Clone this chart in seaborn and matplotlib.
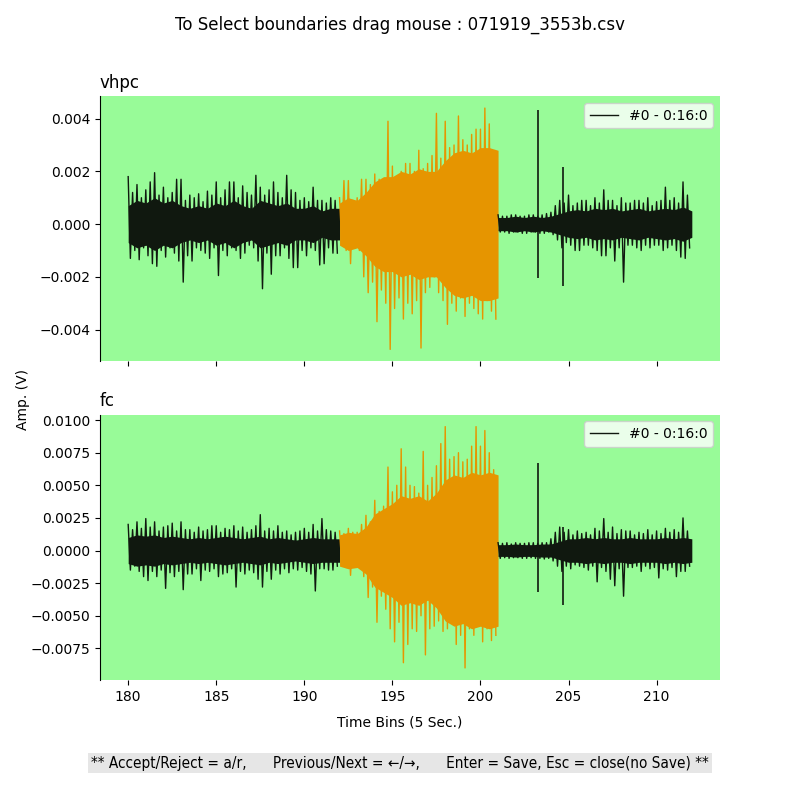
import numpy as np
import pandas as pd
import matplotlib
matplotlib.use('Agg')
import matplotlib.pyplot as plt
import seaborn as sns

# time bins (5 sec.) - peak/trough read every quarter bin, values in mV
t_pre = np.arange(180.0, 192.0, 0.25)
t_evt = np.arange(192.0, 201.0, 0.25)
t_post = np.arange(201.0, 212.0, 0.25)
# dense (solid looking) part of the trace, half width every half bin, mV
tc_pre = np.arange(180.0, 192.5, 0.5)
tc_evt = np.arange(192.0, 201.5, 0.5)
tc_post = np.arange(201.0, 212.5, 0.5)

# vhpc
vhpc_pre_hi = [1.8, 1.2, 1.5, 1.0, 1.3, 1.6, 1.95, 1.1, 1.4, 1.0, 1.2, 1.7,
               1.7, 0.9, 1.1, 1.0, 1.15, 0.85, 1.25, 1.1, 1.6, 1.0, 1.3, 1.6,
               1.6, 1.0, 1.45, 1.2, 1.1, 1.85, 1.4, 1.1, 1.3, 1.6, 1.2, 1.0,
               1.85, 1.3, 1.2, 0.9, 1.0, 0.85, 1.4, 0.9, 0.9, 0.8, 1.0, 0.9]
vhpc_pre_lo = [-1.3, -1.0, -1.35, -0.9, -1.2, -1.5, -1.6, -1.0, -1.25, -0.9, -1.1, -1.4,
               -2.2, -1.2, -1.4, -0.9, -1.0, -1.1, -1.3, -0.9, -1.95, -1.0, -1.2, -0.9,
               -1.0, -1.3, -1.1, -0.8, -0.9, -1.4, -2.45, -1.1, -1.9, -1.2, -1.2, -0.9,
               -1.3, -1.65, -1.65, -1.0, -1.2, -0.9, -1.0, -1.55, -1.5, -0.9, -1.1, -1.1]
vhpc_evt_hi = [1.0, 1.65, 1.65, 0.9, 1.0, 1.7, 1.7, 1.5, 1.9, 1.7, 1.6, 3.9,
               2.2, 1.8, 2.0, 2.3, 2.3, 2.0, 2.8, 2.1, 2.3, 2.6, 4.2, 2.5,
               3.9, 2.9, 3.0, 4.1, 3.2, 3.0, 3.4, 3.6, 3.6, 4.4, 3.8, 2.5]
vhpc_evt_lo = [-0.7, -1.0, -1.5, -0.9, -1.0, -2.0, -2.6, -2.2, -3.7, -2.5, -3.0, -4.75,
               -3.2, -2.8, -3.6, -3.0, -3.4, -2.9, -4.7, -2.6, -2.4, -2.0, -2.6, -2.9,
               -3.8, -3.0, -3.3, -2.8, -3.5, -3.0, -3.2, -3.4, -3.6, -2.9, -3.3, -3.6]
vhpc_post_hi = [0.35, 0.3, 0.3, 0.35, 0.35, 0.3, 0.3, 0.35, 0.35, 0.3, 0.35, 0.4,
                0.45, 0.7, 0.9, 0.8, 1.1, 0.7, 0.8, 0.9, 0.9, 0.7, 1.0, 0.8,
                1.3, 0.9, 0.9, 0.7, 1.0, 0.8, 0.8, 0.9, 0.9, 0.8, 1.0, 0.7,
                0.85, 0.9, 1.4, 0.9, 1.0, 0.8, 1.6, 1.1]
vhpc_post_lo = [-0.3, -0.3, -0.35, -0.3, -0.3, -0.35, -0.35, -0.3, -0.3, -0.35, -0.35, -0.3,
                -0.4, -0.6, -0.9, -0.7, -0.8, -1.0, -1.0, -0.8, -0.8, -0.9, -1.0, -1.2,
                -1.2, -0.9, -1.4, -0.9, -2.2, -0.8, -0.8, -0.9, -1.0, -0.8, -0.9, -0.8,
                -0.8, -1.0, -0.9, -0.8, -1.0, -1.25, -1.3, -0.9]
vhpc_core_pre = [0.7, 0.9, 0.8, 1.0, 0.8, 0.9, 0.7, 0.6, 0.7, 0.6, 0.8, 0.7, 0.9,
                 0.7, 0.6, 0.9, 0.8, 0.7, 0.8, 0.6, 0.6, 0.7, 0.5, 0.6, 0.6]
vhpc_core_evt = [0.8, 1.0, 0.9, 1.2, 1.6, 1.8, 1.8, 2.0, 1.9, 2.1,
                 2.0, 2.0, 2.4, 2.7, 2.8, 2.7, 2.9, 2.9, 2.8]
vhpc_core_post = [0.25, 0.25, 0.3, 0.25, 0.3, 0.25, 0.3, 0.4, 0.5, 0.55, 0.5, 0.6,
                  0.55, 0.6, 0.5, 0.55, 0.6, 0.5, 0.55, 0.6, 0.55, 0.65, 0.5]
vhpc_spike_t = [203.25, 204.7]
vhpc_spike_hi = [4.33, 2.16]
vhpc_spike_lo = [-2.04, -2.33]

# fc
fc_pre_hi = [2.0, 1.6, 2.2, 1.7, 2.45, 1.8, 2.2, 1.5, 1.8, 1.9, 2.1, 1.5,
             2.2, 1.6, 1.6, 1.4, 1.8, 1.5, 1.6, 1.9, 1.9, 1.4, 1.7, 1.6,
             1.9, 1.5, 1.8, 1.4, 1.6, 1.9, 2.75, 1.5, 1.7, 1.5, 1.9, 1.4,
             1.5, 1.2, 1.4, 1.5, 1.7, 1.4, 2.0, 1.5, 2.45, 1.6, 1.5, 1.4]
fc_pre_lo = [-1.5, -1.2, -1.6, -2.0, -2.3, -1.6, -2.0, -1.5, -2.9, -1.7, -2.0, -1.6,
             -3.0, -1.8, -1.8, -1.4, -2.3, -1.5, -1.6, -1.4, -2.0, -1.8, -1.7, -1.4,
             -2.8, -1.6, -1.8, -1.5, -1.7, -2.2, -2.8, -1.6, -2.2, -1.5, -1.8, -1.4,
             -1.7, -1.4, -1.5, -1.3, -1.6, -1.8, -3.1, -1.4, -1.4, -1.5, -1.5, -1.2]
fc_evt_hi = [1.5, 1.3, 1.7, 1.4, 1.4, 2.0, 2.7, 2.2, 3.85, 3.0, 3.4, 6.4,
             4.5, 5.0, 7.8, 6.4, 5.0, 4.9, 4.4, 7.6, 5.0, 5.6, 6.5, 8.2,
             9.5, 7.0, 7.2, 7.5, 6.8, 7.0, 8.0, 9.5, 8.0, 9.2, 7.5, 6.2]
fc_evt_lo = [-1.0, -1.3, -1.9, -1.1, -1.2, -2.0, -3.6, -2.8, -5.5, -3.5, -4.5, -6.0,
             -7.0, -5.5, -8.6, -7.2, -6.0, -6.2, -5.0, -8.0, -6.0, -5.8, -5.4, -6.2,
             -6.0, -5.5, -7.2, -6.5, -9.0, -6.0, -6.5, -5.8, -7.0, -6.0, -6.9, -6.5]
fc_post_hi = [0.6, 0.55, 0.6, 0.5, 0.6, 0.55, 0.55, 0.6, 0.6, 0.55, 0.6, 0.6,
              0.9, 1.4, 1.8, 1.4, 1.6, 1.2, 1.5, 1.3, 1.4, 1.2, 1.7, 1.5,
              2.45, 1.4, 1.8, 1.3, 1.6, 1.5, 1.5, 1.2, 1.4, 1.3, 1.6, 1.2,
              1.5, 1.3, 1.7, 1.4, 1.6, 1.4, 2.5, 1.5]
fc_post_lo = [-0.6, -0.55, -0.6, -0.55, -0.55, -0.6, -0.6, -0.55, -0.6, -0.6, -0.65, -0.6,
              -0.8, -1.2, -1.6, -1.2, -1.4, -1.1, -1.2, -1.3, -1.5, -1.2, -2.4, -1.3,
              -1.6, -2.2, -2.7, -1.4, -3.5, -1.3, -1.3, -1.2, -1.6, -1.2, -1.4, -1.3,
              -2.1, -1.4, -1.5, -1.3, -2.0, -1.6, -1.6, -1.2]
fc_core_pre = [1.0, 1.2, 1.1, 1.2, 1.0, 1.1, 1.0, 0.9, 1.0, 0.9, 1.0, 1.1, 1.0,
               0.9, 1.0, 1.1, 0.9, 1.0, 0.9, 0.8, 0.9, 1.0, 0.9, 0.9, 0.9]
fc_core_evt = [1.2, 1.4, 1.3, 1.8, 2.8, 3.2, 3.6, 4.2, 4.0, 4.2,
               3.8, 4.4, 5.4, 5.8, 5.6, 6.0, 5.8, 6.0, 5.8]
fc_core_post = [0.45, 0.45, 0.5, 0.45, 0.45, 0.5, 0.5, 0.7, 0.9, 0.9, 1.0, 0.9,
                1.0, 0.9, 0.9, 1.0, 0.9, 0.9, 0.9, 1.0, 0.9, 1.0, 0.9]
fc_spike_t = [203.25, 204.7]
fc_spike_hi = [6.7, 1.8]
fc_spike_lo = [-3.2, -4.2]

BG = '#98fb98'
SIG = '#10180f'
EVT = '#e69500'


def zigzag(t, hi, lo):
    # trace goes peak -> trough -> peak ...
    x = np.column_stack([t, t + 0.125]).ravel()
    y = np.column_stack([hi, lo]).ravel() * 1e-3
    return pd.DataFrame({'time': x, 'amp': y})


def draw(ax, name, segs, cores, spikes):
    for i, ((t, hi, lo), (ct, cv), col) in enumerate(zip(segs, cores, [SIG, EVT, SIG])):
        cv = np.array(cv) * 1e-3
        ax.fill_between(ct, -cv, cv, color=col, lw=0)
        sns.lineplot(data=zigzag(t, hi, lo), x='time', y='amp', ax=ax, color=col,
                     lw=1.0, estimator=None, sort=False,
                     label='#0 - 0:16:0' if i == 0 else None, legend=(i == 0))
    st, sh, sl = spikes
    ax.vlines(st, np.array(sl) * 1e-3, np.array(sh) * 1e-3, color=SIG, lw=1.2)
    ax.set_facecolor(BG)
    ax.set_title(name, loc='left')
    ax.set_xlabel('')
    ax.set_ylabel('')
    ax.legend(loc='upper right')
    sns.despine(ax=ax, bottom=True)


fig, (ax1, ax2) = plt.subplots(2, 1, figsize=(8, 8), dpi=100, sharex=True)
fig.subplots_adjust(bottom=0.15)

draw(ax1, 'vhpc',
     [(t_pre, vhpc_pre_hi, vhpc_pre_lo), (t_evt, vhpc_evt_hi, vhpc_evt_lo),
      (t_post, vhpc_post_hi, vhpc_post_lo)],
     [(tc_pre, vhpc_core_pre), (tc_evt, vhpc_core_evt), (tc_post, vhpc_core_post)],
     (vhpc_spike_t, vhpc_spike_hi, vhpc_spike_lo))
draw(ax2, 'fc',
     [(t_pre, fc_pre_hi, fc_pre_lo), (t_evt, fc_evt_hi, fc_evt_lo),
      (t_post, fc_post_hi, fc_post_lo)],
     [(tc_pre, fc_core_pre), (tc_evt, fc_core_evt), (tc_post, fc_core_post)],
     (fc_spike_t, fc_spike_hi, fc_spike_lo))

ax1.set_xticks([180, 185, 190, 195, 200, 205, 210])

fig.suptitle('To Select boundaries drag mouse : 071919_3553b.csv')
fig.supxlabel('Time Bins (5 Sec.)', y=0.088, fontsize=10)
fig.supylabel('Amp. (V)', fontsize=10)
fig.text(0.5, 0.046, '** Accept/Reject = a/r,      Previous/Next = \u2190/\u2192,      '
         'Enter = Save, Esc = close(no Save) **',
         ha='center', va='center', fontsize=11, fontstretch='condensed',
         bbox=dict(facecolor='#e6e6e6', edgecolor='none', pad=2))

fig.savefig('out.png', dpi=100)
